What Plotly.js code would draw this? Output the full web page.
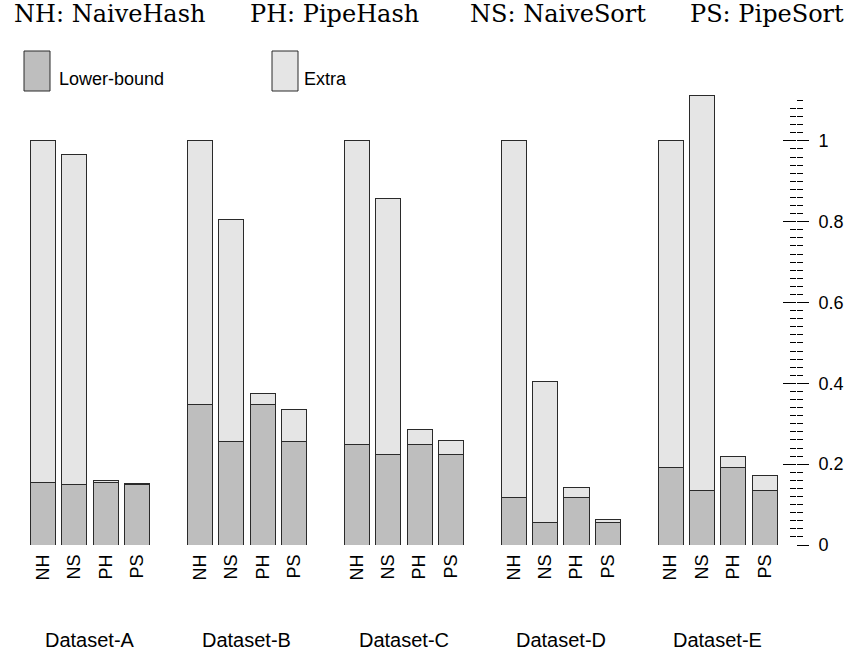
<!DOCTYPE html>
<html>
<head>
<meta charset="utf-8">
<script src="https://cdn.plot.ly/plotly-3.0.1.min.js"></script>
<style>html,body{margin:0;padding:0;background:#fff;}#chart{width:854px;height:662px;}</style>
</head>
<body>
<div id="chart"></div>
<script>
// ---- data ----
const methods = ['NH', 'NS', 'PH', 'PS'];
const datasets = ['Dataset-A', 'Dataset-B', 'Dataset-C', 'Dataset-D', 'Dataset-E'];
const legendNames = ['Lower-bound', 'Extra'];
const titleParts = ['NH: NaiveHash', 'PH: PipeHash', 'NS: NaiveSort', 'PS: PipeSort'];

const lowerA = [0.154, 0.149, 0.155, 0.149];
const totalA = [1.000, 0.967, 0.159, 0.152];
const lowerB = [0.348, 0.257, 0.348, 0.257];
const totalB = [1.000, 0.806, 0.375, 0.336];
const lowerC = [0.249, 0.224, 0.249, 0.224];
const totalC = [1.000, 0.858, 0.286, 0.259];
const lowerD = [0.118, 0.055, 0.118, 0.055];
const totalD = [1.000, 0.404, 0.142, 0.064];
const lowerE = [0.191, 0.134, 0.191, 0.134];
const totalE = [1.000, 1.111, 0.219, 0.171];

const yTickVals = [0, 0.2, 0.4, 0.6, 0.8, 1];

// ---- layout helpers ----
const lowers = [lowerA, lowerB, lowerC, lowerD, lowerE];
const totals = [totalA, totalB, totalC, totalD, totalE];
const W = 854, H = 662;
const M = {l: 0, r: 58, t: 60, b: 117};
const plotW = W - M.l - M.r, plotH = H - M.t - M.b;
const GROUP = 6, STEP = 1.2;
const pxX = px => (px - M.l) / plotW;
const pxY = py => (H - M.b - py) / plotH;

const xs = [], tickText = [], lowVals = [], extraVals = [];
datasets.forEach((d, g) => {
  methods.forEach((m, i) => {
    xs.push(g * GROUP + i * STEP);
    tickText.push(m);
    lowVals.push(lowers[g][i]);
    extraVals.push(+(totals[g][i] - lowers[g][i]).toFixed(4));
  });
});

const lineStyle = {color: '#2a2a2a', width: 1};
const traces = [
  {type: 'scatter', x: [null], y: [null], yaxis: 'y2', showlegend: false, hoverinfo: 'skip'},
  {type: 'scatter', x: [null], y: [null], yaxis: 'y3', showlegend: false, hoverinfo: 'skip'},
  {type: 'bar', x: xs, y: lowVals, width: 0.96, name: legendNames[0],
   marker: {color: '#bebebe', line: lineStyle}, showlegend: false},
  {type: 'bar', x: xs, y: extraVals, width: 0.96, name: legendNames[1],
   marker: {color: '#e5e5e5', line: lineStyle}, showlegend: false}
];

const yTop = 1.2, tickTop = 1.1008;
const sans = 'Liberation Sans, Arial, Helvetica, sans-serif';

const annotations = [];
const titleX = [12, 248, 468, 688];
titleParts.forEach((t, k) => annotations.push({
  text: t, xref: 'paper', yref: 'paper', x: pxX(titleX[k]), y: pxY(14),
  xanchor: 'left', yanchor: 'middle', showarrow: false,
  font: {family: 'DejaVu Serif, serif', size: 24, color: '#000'}
}));
datasets.forEach((d, g) => annotations.push({
  text: d, xref: 'x', yref: 'paper', x: g * GROUP + 1.5 * STEP, y: pxY(640),
  xanchor: 'center', yanchor: 'middle', showarrow: false,
  font: {family: sans, size: 20, color: '#000'}
}));
annotations.push({text: legendNames[0], xref: 'paper', yref: 'paper', x: pxX(57), y: pxY(79),
  xanchor: 'left', yanchor: 'middle', showarrow: false, font: {family: sans, size: 18, color: '#000'}});
annotations.push({text: legendNames[1], xref: 'paper', yref: 'paper', x: pxX(302), y: pxY(79),
  xanchor: 'left', yanchor: 'middle', showarrow: false, font: {family: sans, size: 18, color: '#000'}});

const shapes = [
  {type: 'rect', xref: 'paper', yref: 'paper', x0: pxX(24), x1: pxX(50), y0: pxY(91), y1: pxY(51),
   fillcolor: '#bebebe', line: lineStyle},
  {type: 'rect', xref: 'paper', yref: 'paper', x0: pxX(272), x1: pxX(298), y0: pxY(91), y1: pxY(51),
   fillcolor: '#e5e5e5', line: lineStyle}
];

const unit = 26.15;
const x0 = -43 / unit;
const layout = {
  width: W, height: H, margin: M,
  paper_bgcolor: '#ffffff', plot_bgcolor: 'rgba(0,0,0,0)',
  barmode: 'stack', showlegend: false,
  xaxis: {range: [x0, x0 + plotW / unit], tickmode: 'array', tickvals: xs, ticktext: tickText,
    tickangle: -90, ticks: '', showgrid: false, zeroline: false, showline: false,
    tickfont: {family: sans, size: 18, color: '#000'}, ticklabelstandoff: 5},
  yaxis: {range: [0, yTop], visible: false, showgrid: false, zeroline: false},
  yaxis2: {domain: [0, tickTop / yTop], range: [0, tickTop], anchor: 'x', side: 'right',
    tickmode: 'array', tickvals: yTickVals, ticks: 'outside', ticklen: 12, tickwidth: 1, tickcolor: '#000',
    minor: {tickmode: 'linear', tick0: 0, dtick: 0.02, ticks: 'outside', ticklen: 6, tickwidth: 1, tickcolor: '#000'},
    showgrid: false, zeroline: false, showline: false,
    tickfont: {family: sans, size: 18, color: '#000'}, ticklabelstandoff: 6},
  yaxis3: {overlaying: 'y2', range: [0, tickTop], anchor: 'x', side: 'right',
    tickmode: 'array', tickvals: yTickVals, ticks: 'inside', ticklen: 13, tickwidth: 1, tickcolor: '#000',
    minor: {tickmode: 'linear', tick0: 0, dtick: 0.02, ticks: 'inside', ticklen: 6, tickwidth: 1, tickcolor: '#000'},
    showgrid: false, zeroline: false, showline: false, showticklabels: false},
  annotations: annotations,
  shapes: shapes
};

Plotly.newPlot('chart', traces, layout, {displayModeBar: false, staticPlot: true});
</script>
</body>
</html>
